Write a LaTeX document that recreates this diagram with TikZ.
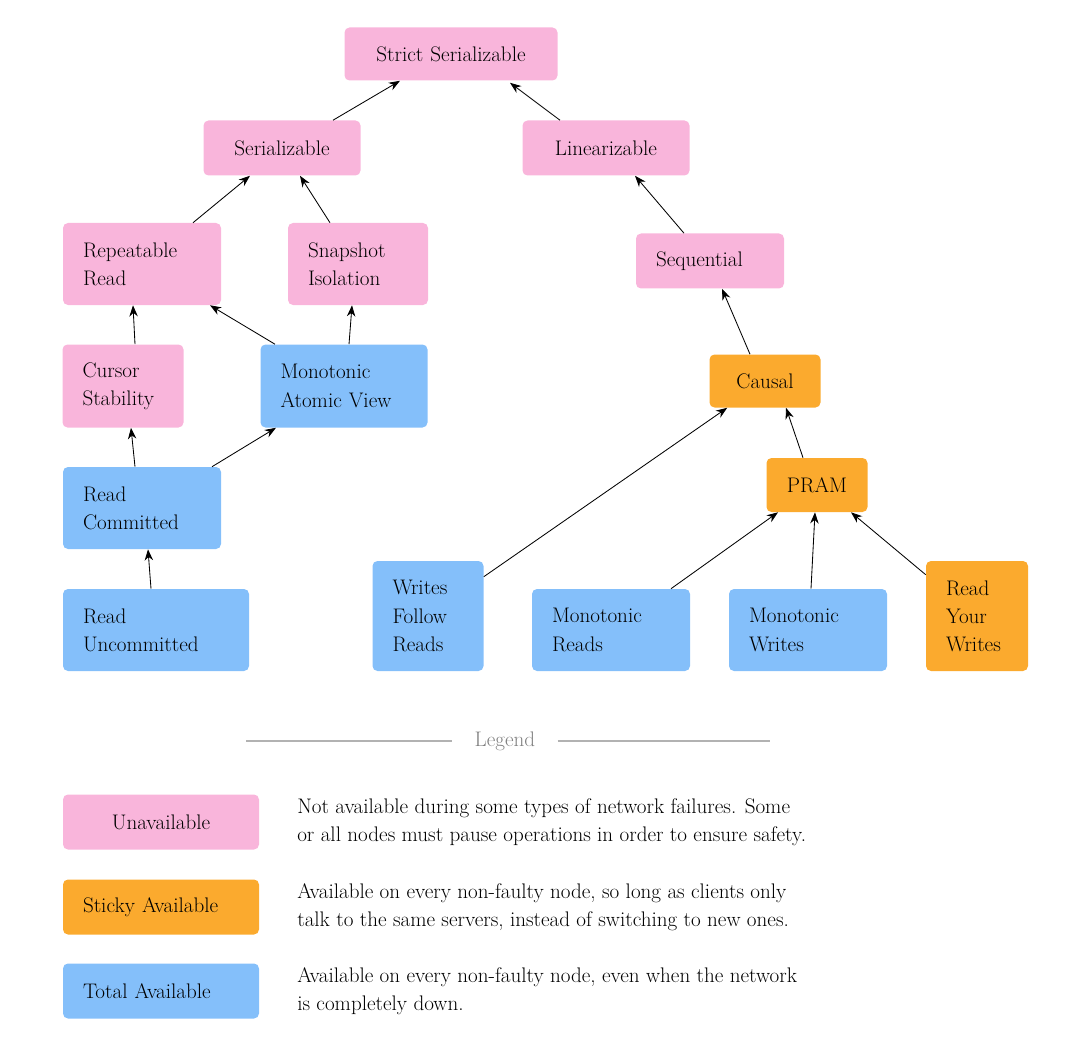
\documentclass[tikz,border=0pt]{standalone}
\usepackage{xcolor}
\usetikzlibrary{arrows.meta}
\definecolor{unavail}{HTML}{F9B5DB}
\definecolor{sticky}{HTML}{FBAA2E}
\definecolor{total}{HTML}{84BFFA}
\newlength\pu
\setlength\pu{0.025cm}
\tikzset{
  box/.style n args={3}{fill=#1, rounded corners=5\pu, inner xsep=20\pu, inner ysep=0pt,
    minimum width=#2\pu, minimum height=#3\pu, text width=#2\pu-40\pu, align=left,
    font=\fontsize{15}{20}\selectfont},
  dep/.style={-{Stealth[length=8pt,width=6pt]}, semithick}
}
\begin{document}
\begin{tikzpicture}[x=1\pu, y=-1\pu]
    \useasboundingbox (0,0) rectangle (1080,1051);
    % Nodes
    \node[box={unavail}{213}{53}, align=center] (strict) at (451,54) {Strict Serializable};
    \node[box={unavail}{157}{55}, align=center] (ser) at (282,148) {Serializable};
    \node[box={unavail}{167}{55}, align=center] (lin) at (606,148) {Linearizable};
    \node[box={unavail}{158}{82}] (rr) at (142,264) {Repeatable\\Read};
    \node[box={unavail}{140}{82}] (si) at (358,264) {Snapshot\\Isolation};
    \node[box={unavail}{148}{55}] (seq) at (710,261) {Sequential};
    \node[box={unavail}{121}{83}] (cs) at (123,386) {Cursor\\Stability};
    \node[box={total}{167}{83}] (mav) at (344,386) {Monotonic\\Atomic View};
    \node[box={sticky}{111}{53}, align=center] (causal) at (765,381) {Causal};
    \node[box={total}{158}{82}] (rc) at (142,508) {Read\\Committed};
    \node[box={sticky}{101}{54}, align=center] (pram) at (817,485) {PRAM};
    \node[box={total}{186}{82}] (ru) at (156,630) {Read\\Uncommitted};
    \node[box={total}{111}{110}] (wfr) at (428,616) {Writes\\Follow\\Reads};
    \node[box={total}{158}{82}] (mr) at (611,630) {Monotonic\\Reads};
    \node[box={total}{158}{82}] (mw) at (808,630) {Monotonic\\Writes};
    \node[box={sticky}{102}{110}] (ryw) at (977,616) {Read\\Your\\Writes};

    % Connections
    \draw[dep] ([xshift=51\pu]ser.north) -- ([xshift=-51\pu]strict.south);
    \draw[dep] ([xshift=-46\pu]lin.north) -- ([xshift=59\pu, yshift=-2\pu]strict.south);
    \draw[dep] ([xshift=51\pu]rr.north) -- ([xshift=-32\pu]ser.south);
    \draw[dep] ([xshift=-28\pu]si.north) -- ([xshift=18\pu]ser.south);
    \draw[dep] ([xshift=-26\pu]seq.north) -- ([xshift=29\pu]lin.south);
    \draw[dep] ([xshift=12\pu]cs.north) -- ([xshift=-9\pu]rr.south);
    \draw[dep] ([xshift=-69\pu]mav.north) -- ([xshift=68\pu]rr.south);
    \draw[dep] ([xshift=5\pu]mav.north) -- ([xshift=-6\pu]si.south);
    \draw[dep] ([xshift=-15\pu]causal.north) -- ([xshift=12\pu]seq.south);
    \draw[dep] ([xshift=-7\pu]rc.north) -- ([xshift=8\pu]cs.south);
    \draw[dep] ([xshift=70\pu]rc.north) -- ([xshift=-68\pu]mav.south);
    \draw[dep] ([xshift=-14\pu]pram.north) -- ([xshift=21\pu]causal.south);
    \draw[dep] ([xshift=-5\pu]ru.north) -- ([xshift=6\pu]rc.south);
    \draw[dep] ([yshift=-16\pu]wfr.north east) -- ([xshift=18\pu]causal.south west);
    \draw[dep] ([xshift=60\pu]mr.north) -- ([xshift=-39\pu]pram.south);
    \draw[dep] ([xshift=3\pu]mw.north) -- ([xshift=-2\pu]pram.south);
    \draw[dep] ([yshift=-14\pu]ryw.north west) -- ([xshift=34\pu]pram.south);

    % Legend
    \node[text=gray, inner xsep=22\pu, font=\fontsize{15}{18}\selectfont] (legend) at (505,741) {Legend};
    \coordinate (l1) at (246,741);
    \coordinate (l2) at (770,741);
    \draw[gray!60, thick] (l1) -- (legend.west);
    \draw[gray!60, thick] (legend.east) -- (l2);
    \node[box={unavail}{196}{55}, align=center] (kun) at (161,822) {Unavailable};
    \node[box={sticky}{196}{55}] (kst) at (161,907) {Sticky Available};
    \node[box={total}{196}{55}] (kto) at (161,991) {Total Available};
    \node[anchor=west, align=left, inner sep=0pt, font=\fontsize{15}{20}\selectfont] (dun) at (297,822)
        {Not available during some types of network failures. Some\\or all nodes must pause operations in order to ensure safety.};
    \node[anchor=west, align=left, inner sep=0pt, font=\fontsize{15}{20}\selectfont] (dst) at (297,907)
        {Available on every non-faulty node, so long as clients only\\talk to the same servers, instead of switching to new ones.};
    \node[anchor=west, align=left, inner sep=0pt, font=\fontsize{15}{20}\selectfont] (dto) at (297,991)
        {Available on every non-faulty node, even when the network\\is completely down.};
\end{tikzpicture}
\end{document}
